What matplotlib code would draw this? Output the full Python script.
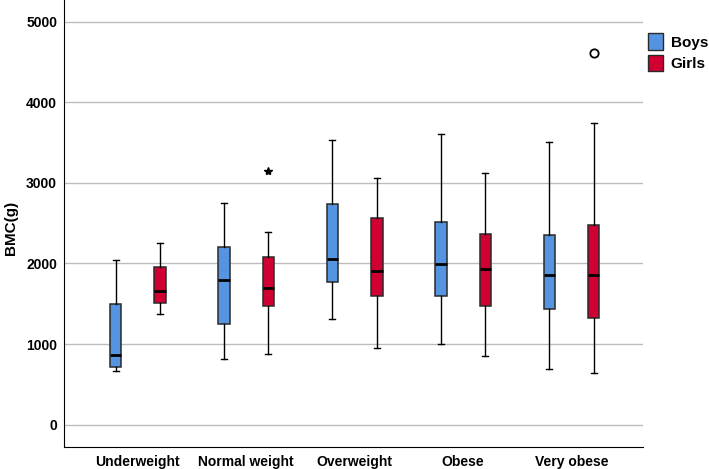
import matplotlib
matplotlib.use("Agg")
import matplotlib.pyplot as plt
from matplotlib.patches import Patch

categories = ["Underweight", "Normal weight", "Overweight", "Obese", "Very obese"]
series = ["Boys", "Girls"]

# five-number summaries (whislo, q1, median, q3, whishi)
boys_whislo = [664, 810, 1310, 1000, 686]
boys_q1 = [714, 1252, 1770, 1596, 1438]
boys_med = [867, 1795, 2056, 1989, 1857]
boys_q3 = [1493, 2201, 2743, 2515, 2354]
boys_whishi = [2039, 2751, 3537, 3612, 3509]

girls_whislo = [1368, 876, 954, 847, 636]
girls_q1 = [1509, 1472, 1596, 1468, 1319]
girls_med = [1654, 1699, 1906, 1931, 1857]
girls_q3 = [1952, 2084, 2569, 2370, 2478]
girls_whishi = [2258, 2391, 3062, 3124, 3749]

# outliers: (category index, series index, value, marker)
outlier_cat = [1, 4]
outlier_series = [1, 1]
outlier_val = [3145, 4620]
outlier_marker = ["*", "o"]

yticks = [0, 1000, 2000, 3000, 4000, 5000]
colors = ["#5594E0", "#D10033"]

fig = plt.figure(figsize=(7.09, 4.69), dpi=100)
ax = fig.add_axes([0.0903, 0.0469, 0.8167, 0.9531])

offset = 0.205
width = 0.105
for s, (lo, q1, med, q3, hi) in enumerate([
        (boys_whislo, boys_q1, boys_med, boys_q3, boys_whishi),
        (girls_whislo, girls_q1, girls_med, girls_q3, girls_whishi)]):
    stats = []
    for i in range(len(categories)):
        stats.append(dict(whislo=lo[i], q1=q1[i], med=med[i], q3=q3[i], whishi=hi[i], fliers=[]))
    pos = [i + (offset if s else -offset) for i in range(len(categories))]
    ax.bxp(stats, positions=pos, widths=width, patch_artist=True, showfliers=False,
           boxprops=dict(facecolor=colors[s], edgecolor="#2a2a2a", linewidth=1.1),
           medianprops=dict(color="black", linewidth=2.0),
           whiskerprops=dict(color="black", linewidth=1.0),
           capprops=dict(color="black", linewidth=1.0),
           capwidths=0.055, zorder=3)

for c, s, v, m in zip(outlier_cat, outlier_series, outlier_val, outlier_marker):
    x = c + (offset if s else -offset)
    if m == "o":
        ax.plot([x], [v], marker="o", markersize=6, markerfacecolor="white",
                markeredgecolor="black", markeredgewidth=1.3, linestyle="none", zorder=4)
    else:
        ax.plot([x], [v], marker="*", markersize=6, color="black", linestyle="none", zorder=4)

ax.set_xlim(-0.68, 4.66)
ax.set_ylim(-279, 5272)
ax.set_xticks(range(len(categories)))
ax.set_xticklabels(categories, fontfamily="Liberation Sans", fontweight="bold", fontsize=10)
ax.set_yticks(yticks)
ax.set_yticklabels([str(t) for t in yticks], fontfamily="Liberation Sans", fontweight="bold", fontsize=10)
ax.tick_params(axis="x", length=0, pad=6)
ax.tick_params(axis="y", length=0, pad=5)
ax.yaxis.grid(True, color="#bdbdbd", linewidth=1.0)
ax.set_axisbelow(True)
for sp in ["top", "right"]:
    ax.spines[sp].set_visible(False)
ax.spines["left"].set_color("black")
ax.spines["bottom"].set_color("black")
ax.set_ylabel("BMC(g)", fontfamily="Liberation Sans", fontweight="bold", fontsize=11)
ax.yaxis.set_label_coords(-0.079, 0.49)

handles = [Patch(facecolor=colors[i], edgecolor="#2a2a2a", label=series[i]) for i in range(2)]
fig.legend(handles=handles, loc="upper left", bbox_to_anchor=(0.905, 0.942), frameon=False,
           prop=dict(family="Liberation Sans", weight="bold", size=11),
           handlelength=1.0, handleheight=1.3, handletextpad=0.5, labelspacing=0.3, borderaxespad=0)

fig.savefig("out.png", dpi=100)
